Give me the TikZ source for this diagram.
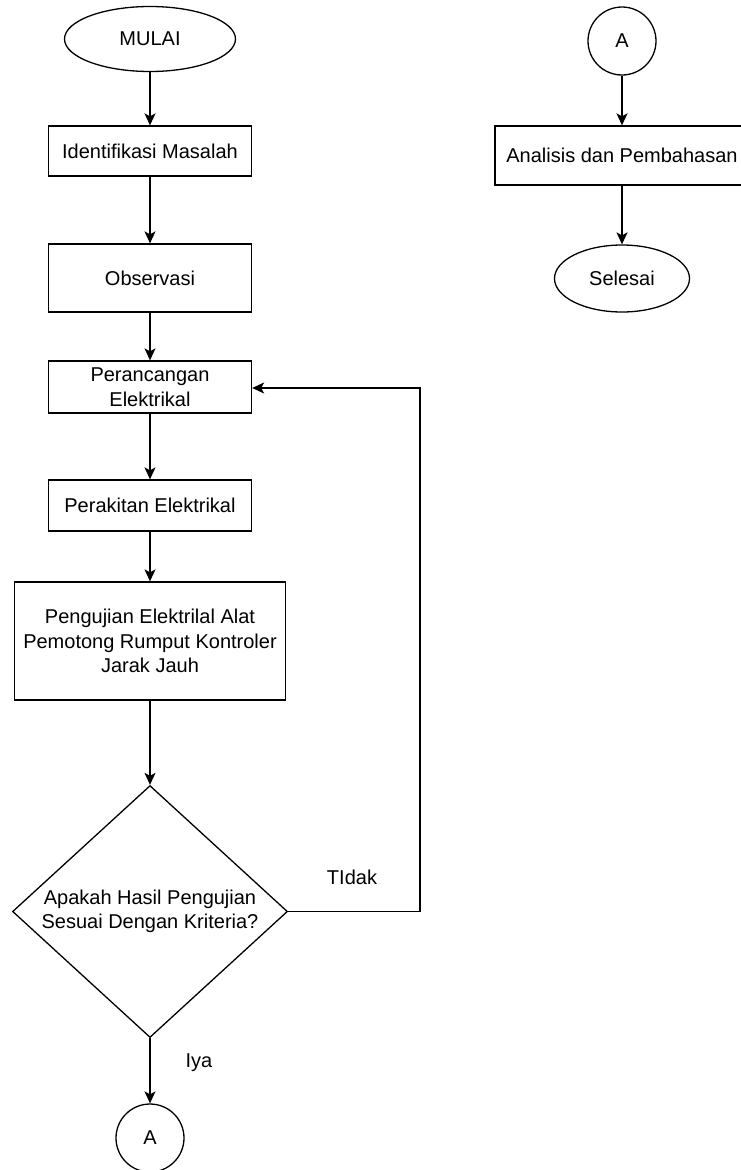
\documentclass[tikz,border=0pt]{standalone}
\usepackage{fontspec}
\setmainfont{Liberation Sans}
\usetikzlibrary{shapes.geometric,arrows.meta}
\begin{document}
\begin{tikzpicture}[x=1pt,y=-1pt,
  every node/.style={font=\fontsize{20}{24.5}\selectfont, align=center, inner sep=0pt},
  proc/.style={draw, line width=1.3pt, rectangle, minimum width=203pt},
  term/.style={draw, line width=1.3pt, ellipse},
  conn/.style={draw, line width=1.3pt, circle, minimum size=68pt},
  dec/.style={draw, line width=1.3pt, diamond, aspect=1.09, minimum width=275pt, minimum height=252pt},
  arr/.style={line width=1.3pt, -{Stealth[length=12pt,width=11pt,inset=3pt]}},
  lbl/.style={}
]
\useasboundingbox (0,0) rectangle (740,1170);
% left column
\node[term, minimum width=171pt, minimum height=65pt] (mulai) at (150,39) {MULAI};
\node[proc, minimum height=50pt] (ident) at (150,151) {Identifikasi Masalah};
\node[proc, minimum height=68pt] (obs) at (150,278) {Observasi};
\node[proc, minimum height=52pt] (ranc) at (150,387) {Perancangan\\Elektrikal};
\node[proc, minimum height=51pt] (rakit) at (150,505.5) {Perakitan Elektrikal};
\node[proc, minimum width=271pt, minimum height=118pt] (uji) at (150,641) {Pengujian Elektrilal Alat\\Pemotong Rumput Kontroler\\Jarak Jauh};
\node[dec] (kriteria) at (150,911.5) {Apakah Hasil Pengujian\\Sesuai Dengan Kriteria?};
\node[conn] (a1) at (150,1138) {A};
\coordinate (loopA) at (420,911.5);
\coordinate (loopB) at (420,388);
\node[lbl] (tidak) at (352,877) {TIdak};
\node[lbl] (iya) at (199,1063) {Iya};
% right column
\node[conn] (a2) at (622,41) {A};
\node[proc, minimum width=254pt, minimum height=59pt] (anal) at (622,155.5) {Analisis dan Pembahasan};
\node[term, minimum width=135pt, minimum height=67pt] (selesai) at (622,278.5) {Selesai};
% connectors
\draw[arr] (mulai) -- (ident);
\draw[arr] (ident) -- (obs);
\draw[arr] (obs) -- (ranc);
\draw[arr] (ranc) -- (rakit);
\draw[arr] (rakit) -- (uji);
\draw[arr] (uji) -- (kriteria);
\draw[arr] (kriteria) -- (a1);
\draw[arr] (kriteria.east) -- (loopA) -- (loopB) -- (ranc.east |- loopB);
\draw[arr] (a2) -- (anal);
\draw[arr] (anal) -- (selesai);
\end{tikzpicture}
\end{document}
